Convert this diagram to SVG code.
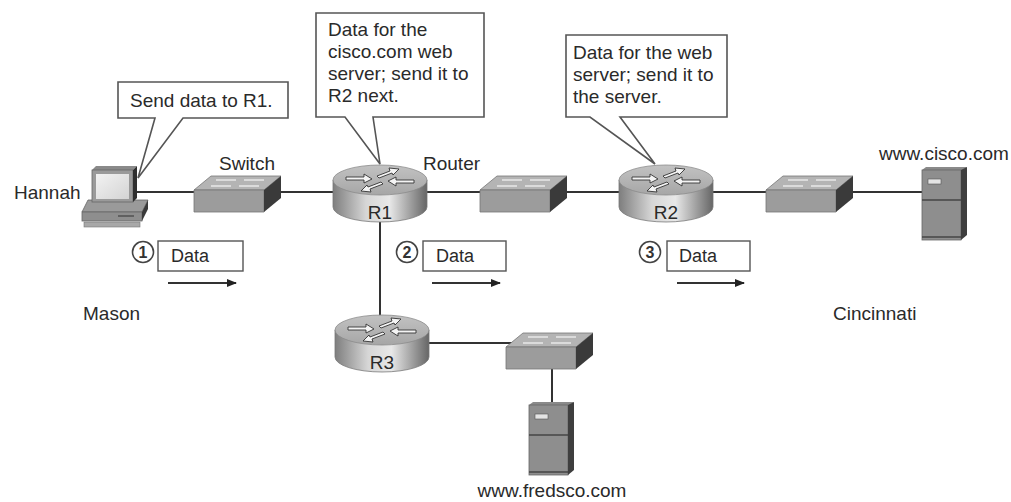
<svg xmlns="http://www.w3.org/2000/svg" width="1011" height="502" viewBox="0 0 1011 502">
  <style>
    .lbl { font-family: "Liberation Sans", Arial, sans-serif; font-size: 19px; fill: #2a2a2a; }
    .pk { font-family: "Liberation Sans", Arial, sans-serif; font-size: 18px; fill: #2a2a2a; }
    .call { fill: #fff; stroke: #555; stroke-width: 1.6; stroke-linejoin: miter; }
    .link { stroke: #333; stroke-width: 2; fill: none; }
    .flow { stroke: #333; stroke-width: 2; fill: none; marker-end: url(#ah); }
    .pkt { fill: #fff; stroke: #555; stroke-width: 1.4; }
    .num { fill: #fff; stroke: #444; stroke-width: 1.6; }
    .rlbl { font-family: "Liberation Sans", Arial, sans-serif; font-size: 19px; fill: #2a2a2a; text-anchor: middle; }
    .digit { font-family: "Liberation Sans", Arial, sans-serif; font-size: 16px; font-weight: bold; fill: #333; text-anchor: middle; }
  </style>
  <defs>
    <marker id="ah" markerWidth="10" markerHeight="8" refX="9" refY="4" orient="auto" markerUnits="userSpaceOnUse">
      <path d="M0,0 L10,4 L0,8 Z" fill="#222"/>
    </marker>
    <linearGradient id="rbody" x1="0" y1="0" x2="1" y2="0">
      <stop offset="0" stop-color="#7e7e7e"/>
      <stop offset="0.35" stop-color="#d6d6d6"/>
      <stop offset="0.6" stop-color="#e8e8e8"/>
      <stop offset="1" stop-color="#666"/>
    </linearGradient>
    <linearGradient id="rtop" x1="0" y1="0" x2="0" y2="1">
      <stop offset="0" stop-color="#c2c2c2"/>
      <stop offset="1" stop-color="#a6a6a6"/>
    </linearGradient>
    <linearGradient id="monitor" x1="0" y1="0" x2="1" y2="1">
      <stop offset="0" stop-color="#f2f2f2"/>
      <stop offset="1" stop-color="#d4d4d4"/>
    </linearGradient>

    <!-- router: cylinder centred on x=0, top ellipse at y=0 -->
    <symbol id="router" overflow="visible">
      <path d="M-47,0 L-47,27 A47,15 0 0 0 47,27 L47,0 Z" fill="url(#rbody)" stroke="#777" stroke-width="0.8"/>
      <ellipse cx="0" cy="0" rx="47" ry="15" fill="url(#rtop)" stroke="#8a8a8a" stroke-width="0.8"/>
      <g fill="#f4f4f4" stroke="#333" stroke-width="0.9" stroke-linejoin="round">
        <path d="M-34,-3 L-16,-3 L-16,-6 L-8,-1 L-16,3 L-16,0 L-34,0 Z"/>
        <path d="M34,3 L16,3 L16,6 L8,1 L16,-3 L16,0 L34,0 Z"/>
        <path d="M-3,-4 L10,-9 L9,-12 L19,-11 L13,-5 L12,-7 L-1,-2 Z"/>
        <path d="M3,4 L-10,9 L-9,12 L-19,11 L-13,5 L-12,7 L1,2 Z"/>
      </g>
    </symbol>

    <!-- workgroup switch: front face top-left at (0,14) -->
    <symbol id="switch" overflow="visible">
      <polygon points="0,14 17,0 87,0 70,14" fill="#b4b4b4" stroke="#777" stroke-width="0.8"/>
      <polygon points="0,14 70,14 70,36 0,36" fill="#9c9c9c" stroke="#777" stroke-width="0.8"/>
      <polygon points="70,14 87,0 87,22 70,36" fill="#3a3a3a"/>
      <g stroke="#e8e8e8" stroke-width="1.6" fill="none">
        <path d="M22,4 L42,4 M50,4 L70,4"/>
        <path d="M17,10 L37,10 M45,10 L65,10"/>
      </g>
    </symbol>

    <!-- tower server: front face 38x73 with side panel -->
    <symbol id="server" overflow="visible">
      <polygon points="0,3 4,0 45,0 41,3" fill="#8a8a8a"/>
      <rect x="0" y="3" width="39" height="70" fill="#8e8e8e" stroke="#666" stroke-width="0.8"/>
      <polygon points="39,3 45,0 45,68 39,73" fill="#3e3e3e"/>
      <rect x="6" y="12" width="13" height="5" fill="#e4e4e4" stroke="#555" stroke-width="0.6"/>
      <line x1="0" y1="33" x2="39" y2="33" stroke="#444" stroke-width="1.6"/>
      <line x1="0" y1="70" x2="39" y2="70" stroke="#444" stroke-width="1.6"/>
    </symbol>
  </defs>

  <rect width="1011" height="502" fill="#fff"/>

  <!-- cabling -->
  <g id="connectors">
    <line class="link" x1="130" y1="192" x2="200" y2="192"/>
    <line class="link" x1="275" y1="192" x2="340" y2="192"/>
    <line class="link" x1="420" y1="192" x2="486" y2="192"/>
    <line class="link" x1="560" y1="192" x2="626" y2="192"/>
    <line class="link" x1="706" y1="192" x2="772" y2="192"/>
    <line class="link" x1="846" y1="192" x2="924" y2="192"/>
    <line class="link" x1="380" y1="215" x2="380" y2="322"/>
    <line class="link" x1="420" y1="343" x2="520" y2="343"/>
    <line class="link" x1="552" y1="365" x2="552" y2="405"/>
  </g>

  <!-- Hannah's PC -->
  <g id="pc-hannah">
    <polygon points="82,212 88,200 148,200 142,212" fill="#9a9a9a" stroke="#666" stroke-width="0.8"/>
    <rect x="82" y="212" width="60" height="9" fill="#8e8e8e" stroke="#666" stroke-width="0.8"/>
    <polygon points="142,212 148,200 148,209 142,221" fill="#3a3a3a"/>
    <line x1="118" y1="216" x2="134" y2="216" stroke="#333" stroke-width="1"/>
    <rect x="84" y="222" width="56" height="5" fill="#a8a8a8" stroke="#777" stroke-width="0.6"/>
    <polygon points="92,170 96,166 137,166 133,170" fill="#8a8a8a"/>
    <rect x="92" y="170" width="41" height="32" fill="#9a9a9a" stroke="#666" stroke-width="0.8"/>
    <polygon points="133,170 137,166 137,198 133,202" fill="#2e2e2e"/>
    <rect x="96" y="174" width="33" height="25" fill="url(#monitor)"/>
    <text class="lbl" x="14" y="199">Hannah</text>
  </g>

  <g id="switch-mason">
    <use href="#switch" x="194" y="176"/>
    <text class="lbl" x="219" y="170">Switch</text>
  </g>

  <g id="router-r1">
    <use href="#router" x="380" y="180"/>
    <text class="rlbl" x="380" y="219">R1</text>
    <text class="lbl" x="423" y="170">Router</text>
  </g>

  <g id="switch-mid">
    <use href="#switch" x="480" y="176"/>
  </g>

  <g id="router-r2">
    <use href="#router" x="666" y="180"/>
    <text class="rlbl" x="666" y="219">R2</text>
  </g>

  <g id="switch-cincinnati">
    <use href="#switch" x="766" y="176"/>
  </g>

  <g id="server-cisco">
    <use href="#server" x="922" y="167"/>
    <text class="lbl" x="879" y="160">www.cisco.com</text>
  </g>

  <g id="router-r3">
    <use href="#router" x="382" y="330"/>
    <text class="rlbl" x="382" y="369">R3</text>
  </g>

  <g id="switch-fredsco">
    <use href="#switch" x="506" y="333"/>
  </g>

  <g id="server-fredsco">
    <use href="#server" x="529" y="402"/>
    <text class="lbl" x="552" y="497" text-anchor="middle">www.fredsco.com</text>
  </g>

  <!-- callouts -->
  <g id="callout-hannah">
    <path class="call" d="M118,82 L288,82 L288,118 L183,118 L138,178 L155,118 L118,118 Z"/>
    <text class="lbl" x="130" y="107">Send data to R1.</text>
  </g>

  <g id="callout-r1">
    <path class="call" d="M316,13 L484,13 L484,117 L373,117 L380,164 L345,117 L316,117 Z"/>
    <text class="lbl" x="328" y="36">Data for the</text>
    <text class="lbl" x="328" y="58">cisco.com web</text>
    <text class="lbl" x="328" y="80">server; send it to</text>
    <text class="lbl" x="328" y="102">R2 next.</text>
  </g>

  <g id="callout-r2">
    <path class="call" d="M566,35 L727,35 L727,117 L620,117 L655,164 L590,117 L566,117 Z"/>
    <text class="lbl" x="573" y="59">Data for the web</text>
    <text class="lbl" x="573" y="81">server; send it to</text>
    <text class="lbl" x="573" y="103">the server.</text>
  </g>

  <!-- packet steps -->
  <g id="step-1">
    <circle class="num" cx="143" cy="252" r="10.5"/>
    <text class="digit" x="143" y="258">1</text>
    <rect class="pkt" x="158" y="241" width="85" height="30"/>
    <text class="pk" x="171" y="262">Data</text>
    <line class="flow" x1="168" y1="283" x2="236" y2="283"/>
  </g>

  <g id="step-2">
    <circle class="num" cx="407" cy="252" r="10.5"/>
    <text class="digit" x="407" y="258">2</text>
    <rect class="pkt" x="423" y="241" width="83" height="30"/>
    <text class="pk" x="436" y="262">Data</text>
    <line class="flow" x1="432" y1="283" x2="500" y2="283"/>
  </g>

  <g id="step-3">
    <circle class="num" cx="650" cy="252" r="10.5"/>
    <text class="digit" x="650" y="258">3</text>
    <rect class="pkt" x="667" y="241" width="83" height="30"/>
    <text class="pk" x="679" y="262">Data</text>
    <line class="flow" x1="677" y1="283" x2="744" y2="283"/>
  </g>

  <!-- site names -->
  <g id="sites">
    <text class="lbl" x="83" y="320">Mason</text>
    <text class="lbl" x="833" y="320">Cincinnati</text>
  </g>
</svg>
